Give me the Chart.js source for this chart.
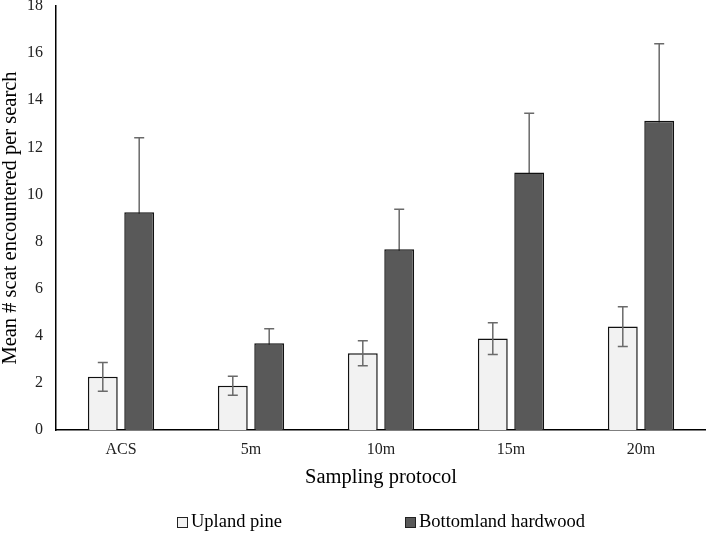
<!DOCTYPE html>
<html>
<head>
<meta charset="utf-8">
<script src="https://cdn.jsdelivr.net/npm/chart.js@4.4.1/dist/chart.umd.min.js"></script>
<style>
    html, body { margin: 0; padding: 0; background: #fff; }
    #wrap { position: relative; width: 706px; height: 533px; }
    .legend-item {
        position: absolute; top: 511px;
        font-family: "Liberation Serif", "Times New Roman", serif;
        font-size: 18.5px; color: #000; white-space: nowrap;
        display: flex; align-items: center;
    }
    .legend-item span.box {
        display: inline-block; width: 9px; height: 9px;
        border: 1px solid #222; margin-right: 3px; margin-top: 2px;
    }
</style>
</head>
<body>
<div id="wrap">
    <canvas id="chart" width="706" height="533"></canvas>
    <div class="legend-item" style="left:177px"><span class="box" style="background:#f2f2f2"></span>Upland pine</div>
    <div class="legend-item" style="left:405px"><span class="box" style="background:#595959"></span>Bottomland hardwood</div>
</div>
<script>
// 샘플링 방법별 데이터
const categories = ['ACS', '5m', '10m', '15m', '20m'];
const uplandMeans = [2.26, 1.88, 3.26, 3.88, 4.39];
const uplandErr = [0.61, 0.40, 0.53, 0.67, 0.84];
const bottomMeans = [9.24, 3.68, 7.67, 10.93, 13.13];
const bottomErr = [3.17, 0.62, 1.70, 2.52, 3.27];
const yMin = 0;
const yMax = 18;
const yStep = 2;

const serif = '"Liberation Serif", "Times New Roman", serif';

// 오차 막대 그리기 (behind: 막대 뒤에 그림)
function drawErrors(chart, behind) {
    const ctx = chart.ctx;
    const yScale = chart.scales.y;
    chart.data.datasets.forEach(function (ds, i) {
        if (!!ds.errBehind !== behind) return;
        const meta = chart.getDatasetMeta(i);
        meta.data.forEach(function (bar, j) {
            const v = ds.data[j];
            const e = ds.errors[j];
            const yTop = yScale.getPixelForValue(v + e);
            const yBot = yScale.getPixelForValue(v - e);
            const x = bar.x;
            ctx.save();
            ctx.strokeStyle = '#6a6a6a';
            ctx.lineWidth = 1.5;
            ctx.beginPath();
            ctx.moveTo(x, yTop); ctx.lineTo(x, yBot);
            ctx.moveTo(x - 5, yTop); ctx.lineTo(x + 5, yTop);
            ctx.moveTo(x - 5, yBot); ctx.lineTo(x + 5, yBot);
            ctx.stroke();
            ctx.restore();
        });
    });
}

const errorBars = {
    id: 'errorBars',
    beforeDatasetsDraw: function (chart) { drawErrors(chart, true); },
    afterDatasetsDraw: function (chart) { drawErrors(chart, false); }
};

new Chart(document.getElementById('chart').getContext('2d'), {
    type: 'bar',
    data: {
        labels: categories,
        datasets: [{
            label: 'Upland pine',
            data: uplandMeans,
            errors: uplandErr,
            backgroundColor: '#f2f2f2',
            borderColor: '#111',
            borderWidth: 1.5,
            categoryPercentage: 0.56,
            barPercentage: 0.82
        }, {
            label: 'Bottomland hardwood',
            data: bottomMeans,
            errors: bottomErr,
            errBehind: true,
            backgroundColor: '#595959',
            borderColor: '#111',
            borderWidth: 1.5,
            categoryPercentage: 0.56,
            barPercentage: 0.82
        }]
    },
    options: {
        responsive: false,
        animation: false,
        devicePixelRatio: 1,
        layout: { padding: { top: 6, right: 0, bottom: 0, left: 0 } },
        plugins: {
            legend: { display: false },
            tooltip: { enabled: false }
        },
        scales: {
            x: {
                grid: { display: false, drawTicks: false },
                border: { display: true, color: '#000', width: 1.5 },
                ticks: { color: '#222', padding: 10, font: { family: serif, size: 16 } },
                title: {
                    display: true,
                    text: 'Sampling protocol',
                    color: '#000',
                    padding: { top: 0, bottom: 45 },
                    font: { family: serif, size: 20.5, lineHeight: 1 }
                },
                afterFit: function (scale) { scale.height = 103; }
            },
            y: {
                min: yMin,
                max: yMax,
                grid: { display: false, drawTicks: false },
                border: { display: true, color: '#000', width: 1.5 },
                ticks: { stepSize: yStep, color: '#222', padding: 13, font: { family: serif, size: 16 } },
                title: {
                    display: true,
                    text: 'Mean # scat encountered per search',
                    color: '#000',
                    padding: 0,
                    font: { family: serif, size: 20.5, lineHeight: 1 }
                },
                afterFit: function (scale) {
                    scale.width = 56;
                    scale.paddingTop = 0;
                }
            }
        }
    },
    plugins: [errorBars]
});
</script>
</body>
</html>
